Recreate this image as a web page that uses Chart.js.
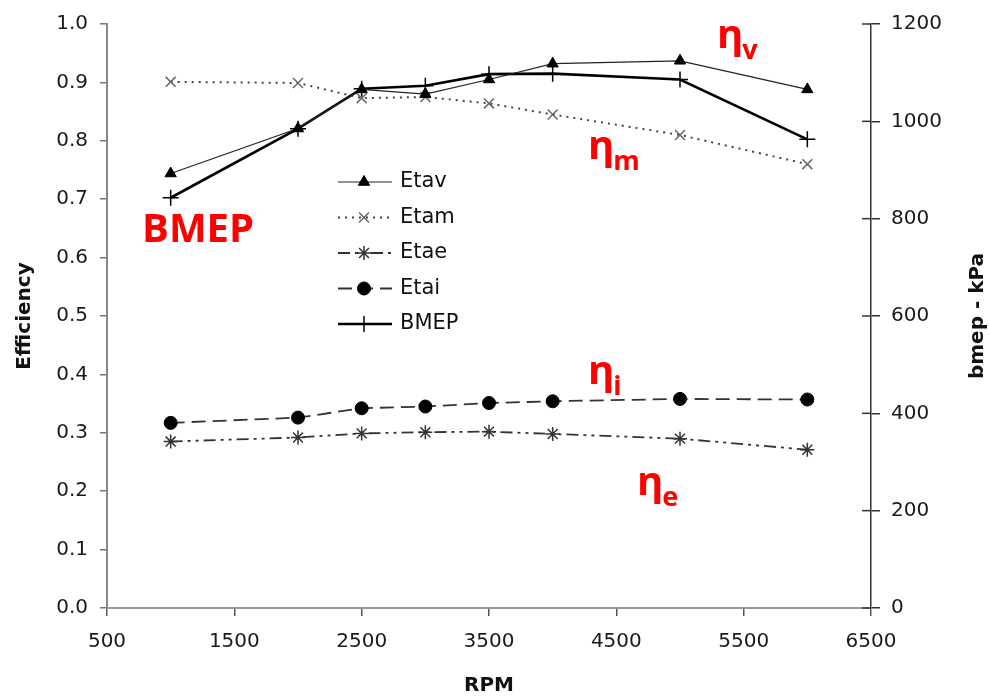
<!DOCTYPE html>
<html>
<head>
<meta charset="utf-8">
<script src="https://cdn.jsdelivr.net/npm/chart.js@4/dist/chart.umd.min.js"></script>
<style>
  html, body { margin: 0; padding: 0; background: #fff; }
  #wrap { width: 990px; height: 700px; }
</style>
</head>
<body>
<div id="wrap"><canvas id="myChart" width="990" height="700"></canvas></div>
<script>
// engine speeds (x values)
const rpm = [1000, 2000, 2500, 3000, 3500, 4000, 5000, 6000];

// efficiencies
const etav = [0.744, 0.821, 0.888, 0.880, 0.905, 0.932, 0.937, 0.888];
const etam = [0.901, 0.899, 0.873, 0.875, 0.864, 0.845, 0.810, 0.760];
const etae = [0.285, 0.292, 0.299, 0.301, 0.302, 0.298, 0.290, 0.271];
const etai = [0.317, 0.326, 0.342, 0.345, 0.351, 0.354, 0.358, 0.357];

// brake mean effective pressure, right axis (kPa)
const bmep = [843, 985, 1067, 1073, 1097, 1098, 1086, 963];

const seriesNames = ['Etav', 'Etam', 'Etae', 'Etai', 'BMEP'];

// red labels written on the plot
const noteText = ['η', 'η', 'η', 'η', 'BMEP'];
const noteSub = ['v', 'm', 'i', 'e', ''];
const noteRpm = [5290, 4277, 4277, 4662, 775];
const noteEff = [0.959, 0.768, 0.383, 0.193, 0.627];

const TICK_FONT = { family: "'DejaVu Sans', 'Liberation Sans', sans-serif", size: 20 };
const TITLE_FONT = { family: "'DejaVu Sans', 'Liberation Sans', sans-serif", size: 20, weight: 'bold' };

function toPoints(ys) {
  return rpm.map((x, i) => ({ x: x, y: ys[i] }));
}

/**
 * Draws one marker with Chart.helpers.drawPoint.
 */
function marker(ctx, ds, x, y) {
  const opts = {
    pointStyle: ds.pointStyle,
    radius: ds.pointRadius,
    borderWidth: ds.pointBorderWidth,
    rotation: 0
  };
  ctx.save();
  ctx.setLineDash([]);
  ctx.fillStyle = ds.pointBackgroundColor;
  ctx.strokeStyle = ds.pointBorderColor;
  ctx.lineWidth = ds.pointBorderWidth;
  Chart.helpers.drawPoint(ctx, opts, x, y);
  ctx.restore();
}

// legend box sitting inside the plot
const insideLegend = {
  id: 'insideLegend',
  afterDraw(chart) {
    const ctx = chart.ctx;
    const area = chart.chartArea;
    const x0 = area.left + 231;
    const y0 = area.top + 158;
    chart.data.datasets.forEach((ds, i) => {
      const y = y0 + i * 35.5;
      ctx.save();
      ctx.strokeStyle = ds.borderColor;
      ctx.lineWidth = ds.borderWidth;
      ctx.setLineDash(ds.borderDash || []);
      ctx.beginPath();
      ctx.moveTo(x0, y);
      ctx.lineTo(x0 + 54, y);
      ctx.stroke();
      ctx.restore();
      marker(ctx, ds, x0 + 26, y);
      ctx.save();
      ctx.fillStyle = '#111';
      ctx.font = "21px 'DejaVu Sans', 'Liberation Sans', sans-serif";
      ctx.textBaseline = 'middle';
      ctx.fillText(ds.label, x0 + 62, y);
      ctx.restore();
    });
  }
};

// red notes, right axis title, and inner half of right tick marks
const extras = {
  id: 'extras',
  afterDraw(chart) {
    const ctx = chart.ctx;
    const xs = chart.scales.x;
    const ys = chart.scales.y;
    const y1 = chart.scales.y1;

    ctx.save();
    ctx.strokeStyle = '#333';
    ctx.lineWidth = 1.5;
    y1.ticks.forEach(t => {
      const py = y1.getPixelForValue(t.value);
      ctx.beginPath();
      ctx.moveTo(chart.chartArea.right - 9, py);
      ctx.lineTo(chart.chartArea.right, py);
      ctx.stroke();
    });
    ctx.restore();

    ctx.save();
    ctx.fillStyle = '#111';
    ctx.font = "bold 20px 'DejaVu Sans', 'Liberation Sans', sans-serif";
    ctx.textAlign = 'center';
    ctx.textBaseline = 'middle';
    ctx.translate(978, (chart.chartArea.top + chart.chartArea.bottom) / 2);
    ctx.rotate(-Math.PI / 2);
    ctx.fillText('bmep - kPa', 0, 0);
    ctx.restore();

    ctx.save();
    ctx.fillStyle = '#ff0000';
    ctx.textBaseline = 'alphabetic';
    noteText.forEach((txt, i) => {
      const px = xs.getPixelForValue(noteRpm[i]);
      const py = ys.getPixelForValue(noteEff[i]);
      ctx.font = "bold 40px 'Open Sans', 'DejaVu Sans', sans-serif";
      ctx.fillText(txt, px, py);
      if (noteSub[i]) {
        const w = ctx.measureText(txt).width;
        ctx.font = "bold 27px 'Open Sans', 'DejaVu Sans', sans-serif";
        ctx.fillText(noteSub[i], px + w - 1, py + 11);
      }
    });
    ctx.restore();
  }
};

const ctx = document.getElementById('myChart');

new Chart(ctx, {
  type: 'line',
  data: {
    datasets: [
      {
        label: seriesNames[0], data: toPoints(etav), yAxisID: 'y',
        borderColor: '#222', borderWidth: 1.2,
        pointStyle: 'triangle', pointRadius: 6.5, pointBorderWidth: 1,
        pointBackgroundColor: '#000', pointBorderColor: '#000'
      },
      {
        label: seriesNames[1], data: toPoints(etam), yAxisID: 'y',
        borderColor: '#444', borderWidth: 2, borderDash: [2, 5],
        pointStyle: 'crossRot', pointRadius: 7, pointBorderWidth: 1.5,
        pointBackgroundColor: '#666', pointBorderColor: '#666'
      },
      {
        label: seriesNames[2], data: toPoints(etae), yAxisID: 'y',
        borderColor: '#333', borderWidth: 1.8, borderDash: [12, 5, 3, 5, 3, 5],
        pointStyle: 'star', pointRadius: 7, pointBorderWidth: 1.5,
        pointBackgroundColor: '#333', pointBorderColor: '#333'
      },
      {
        label: seriesNames[3], data: toPoints(etai), yAxisID: 'y',
        borderColor: '#333', borderWidth: 1.8, borderDash: [14, 7],
        pointStyle: 'circle', pointRadius: 6.5, pointBorderWidth: 1,
        pointBackgroundColor: '#000', pointBorderColor: '#000'
      },
      {
        label: seriesNames[4], data: toPoints(bmep), yAxisID: 'y1',
        borderColor: '#000', borderWidth: 2.6,
        pointStyle: 'cross', pointRadius: 8, pointBorderWidth: 1.5,
        pointBackgroundColor: '#000', pointBorderColor: '#000'
      }
    ]
  },
  options: {
    responsive: false,
    animation: false,
    layout: { padding: { top: 23, left: 0, right: 0, bottom: 0 } },
    plugins: {
      legend: { display: false },
      tooltip: { enabled: false }
    },
    elements: { line: { tension: 0 } },
    scales: {
      x: {
        type: 'linear', min: 500, max: 6500,
        border: { display: true, color: '#999', width: 2 },
        grid: { display: true, drawOnChartArea: false, drawTicks: true, tickLength: 8, color: '#555', lineWidth: 1.5 },
        ticks: { stepSize: 1000, font: TICK_FONT, color: '#1a1a1a', padding: 14, maxRotation: 0, callback: v => String(v) },
        title: { display: true, text: 'RPM', font: TITLE_FONT, color: '#111', padding: { top: 0, bottom: 2 } },
        afterFit(scale) { scale.height = 92; }
      },
      y: {
        type: 'linear', position: 'left', min: 0, max: 1,
        border: { display: true, color: '#888', width: 2 },
        grid: { display: true, drawOnChartArea: false, drawTicks: true, tickLength: 7, color: '#777', lineWidth: 1.5 },
        ticks: { stepSize: 0.1, font: TICK_FONT, color: '#1a1a1a', padding: 12, callback: v => v.toFixed(1) },
        title: { display: true, text: 'Efficiency', font: TITLE_FONT, color: '#111', padding: { top: 13, bottom: 0 } },
        afterFit(scale) { scale.width = 107; }
      },
      y1: {
        type: 'linear', position: 'right', min: 0, max: 1200,
        border: { display: true, color: '#333', width: 1.5 },
        grid: { display: true, drawOnChartArea: false, drawTicks: true, tickLength: 9, color: '#333', lineWidth: 1.5 },
        ticks: { stepSize: 200, font: TICK_FONT, color: '#1a1a1a', padding: 11, callback: v => String(v) },
        afterFit(scale) { scale.width = 119; }
      }
    }
  },
  plugins: [insideLegend, extras]
});
</script>
</body>
</html>
